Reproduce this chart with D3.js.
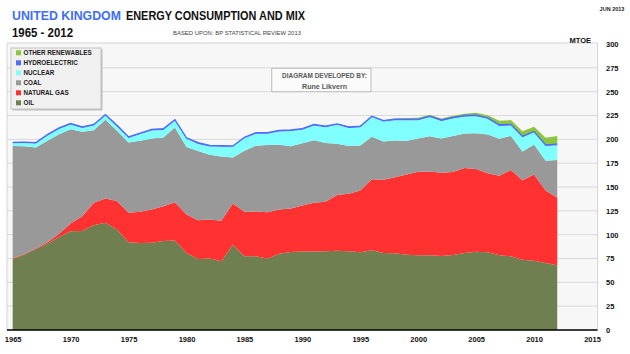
<!DOCTYPE html>
<html><head><meta charset="utf-8">
<script src="https://cdn.jsdelivr.net/npm/d3@7"></script>
<style>
body{margin:0;background:#fff}
svg{display:block}
text{font-family:"Liberation Sans",Arial,sans-serif}
</style>
</head><body>
<svg id="c" width="630" height="354"></svg>
<script>
// ---- DATA (MTOE) ----
const years = [1965,1966,1967,1968,1969,1970,1971,1972,1973,1974,1975,1976,1977,1978,1979,1980,1981,1982,1983,1984,1985,1986,1987,1988,1989,1990,1991,1992,1993,1994,1995,1996,1997,1998,1999,2000,2001,2002,2003,2004,2005,2006,2007,2008,2009,2010,2011,2012];
const oil = [74.5,79.0,85.0,90.6,97.6,103.6,103.8,109.9,112.4,105.3,92.0,91.3,91.6,93.4,93.8,80.8,74.5,75.1,72.0,89.5,77.3,77.3,74.8,80.0,81.8,82.3,82.3,82.5,83.2,82.5,81.5,83.6,80.8,80.4,79.0,78.3,78.3,77.6,78.6,80.8,82.2,81.5,78.3,77.3,73.7,72.7,70.2,67.8];
const gas = [0.7,0.6,0.8,1.4,3.4,8.1,15.6,23.5,25.6,29.9,30.9,32.7,34.8,36.5,40.3,40.3,40.7,40.8,42.5,43.2,46.7,47.0,48.8,46.4,45.7,48.3,51.1,52.0,58.3,60.4,64.9,74.4,76.9,79.7,84.0,87.7,88.0,87.4,87.1,89.2,86.8,82.8,83.4,90.5,83.3,90.3,76.0,71.2];
const coal = [117.8,113.1,105.6,106.4,104.4,99.0,88.5,76.2,82.5,73.7,73.8,74.4,74.5,72.0,78.3,70.9,72.6,67.9,67.4,48.3,64.0,69.0,70.4,68.0,65.3,65.2,65.6,61.7,53.9,50.1,47.2,44.6,40.0,38.7,35.6,35.0,37.0,36.0,37.9,36.2,37.3,40.9,38.9,35.8,30.2,31.5,31.4,39.3];
const nuclear = [2.8,3.4,4.1,5.5,5.5,4.8,4.1,4.9,4.5,4.6,4.8,7.1,8.3,8.0,7.1,8.5,7.4,8.7,10.4,11.1,13.1,12.6,11.9,13.9,15.9,14.3,15.6,16.5,19.8,18.9,19.0,20.8,20.9,21.3,21.4,18.9,20.2,18.2,18.6,17.7,18.0,16.3,13.5,10.9,14.9,12.9,15.3,15.4];
const hydro = [1.0,1.0,1.1,1.1,1.1,1.1,1.0,1.1,1.0,1.2,1.1,1.0,1.2,1.2,1.2,1.1,1.3,1.2,1.2,1.0,1.1,1.2,1.1,1.2,1.2,1.2,1.0,1.2,1.0,1.2,1.1,0.8,1.0,1.2,1.2,1.2,0.9,1.1,0.7,1.1,1.1,1.0,1.2,1.2,1.2,0.8,1.3,1.2];
const renewables = [0,0,0,0,0,0,0,0,0,0,0,0,0,0,0,0,0,0,0,0,0,0,0,0,0,0.1,0.1,0.2,0.2,0.3,0.3,0.3,0.4,0.5,0.8,1.6,1.5,1.5,1.9,1.9,2.4,2.8,4.2,4.5,5.3,4.9,7.5,8.6];

const xTicks = [1965,1970,1975,1980,1985,1990,1995,2000,2005,2010,2015];
const yTicks = [0,25,50,75,100,125,150,175,200,225,250,275,300];

const seriesKeys = ["oil","gas","coal","nuclear","hydro","renewables"];
const seriesColors = {oil:"#707f50",gas:"#ff3131",coal:"#999999",nuclear:"#80ffff",hydro:"#4d6cff",renewables:"#8cc63c"};
const legendItems = [
  {key:"renewables",label:"OTHER RENEWABLES"},
  {key:"hydro",label:"HYDROELECTRIC"},
  {key:"nuclear",label:"NUCLEAR"},
  {key:"coal",label:"COAL"},
  {key:"gas",label:"NATURAL GAS"},
  {key:"oil",label:"OIL"}
];

const rows = years.map((yr,i)=>({year:yr,oil:oil[i],gas:gas[i],coal:coal[i],nuclear:nuclear[i],hydro:hydro[i],renewables:renewables[i]}));

// ---- LAYOUT ----
const svg = d3.select("#c");
const plotL = 7, plotR = 597.5, plotT = 43, plotB = 330;
const x = d3.scaleLinear().domain([1965,2015]).range([12.7,592]);
const y = d3.scaleLinear().domain([0,300]).range([330,44]);

// plot background
svg.append("rect").attr("x",plotL).attr("y",plotT).attr("width",plotR-plotL).attr("height",plotB-plotT)
  .attr("fill","#f7f7f7").attr("stroke","#d6d6d6").attr("stroke-width",1);

// gridlines
svg.append("g").selectAll("line").data(yTicks.filter(v=>v>0&&v<300)).join("line")
  .attr("x1",plotL).attr("x2",plotR).attr("y1",d=>y(d)).attr("y2",d=>y(d))
  .attr("stroke","#d9d9d9").attr("stroke-width",1);

// stacked areas
const stack = d3.stack().keys(seriesKeys);
const layers = stack(rows);
const area = d3.area().x(d=>x(d.data.year)).y0(d=>y(d[0])).y1(d=>y(d[1]));
svg.append("g").selectAll("path").data(layers).join("path")
  .attr("d",area).attr("fill",d=>seriesColors[d.key]);

// hydro top line (thin blue band emphasised)
const hydroLayer = layers.find(l=>l.key==="hydro");
svg.append("path").datum(hydroLayer)
  .attr("d",d3.line().x(d=>x(d.data.year)).y(d=>y(d[1])))
  .attr("fill","none").attr("stroke",seriesColors.hydro).attr("stroke-width",1.3);

// x axis
const xAxis = svg.append("g").attr("transform",`translate(0,${plotB})`)
  .call(d3.axisBottom(x).tickValues(xTicks).tickFormat(d3.format("d")).tickSize(0).tickPadding(7));
xAxis.select(".domain").remove();
xAxis.selectAll("text").attr("font-size","7.5px").attr("font-weight","bold").attr("fill","#111")
  .style("font-family","'Liberation Sans',Arial,sans-serif");
svg.append("line").attr("x1",plotL).attr("x2",plotR).attr("y1",plotB).attr("y2",plotB)
  .attr("stroke","#000").attr("stroke-width",1.6);

// y axis (right)
const yAxis = svg.append("g").attr("transform",`translate(${plotR},0)`)
  .call(d3.axisRight(y).tickValues(yTicks).tickSize(0).tickPadding(8.5));
yAxis.select(".domain").remove();
yAxis.selectAll("text").attr("font-size","7.5px").attr("font-weight","bold").attr("fill","#111")
  .style("font-family","'Liberation Sans',Arial,sans-serif");

// MTOE unit label
svg.append("text").attr("x",591).attr("y",42.5).attr("text-anchor","end")
  .attr("font-size","7.5px").attr("font-weight","bold").attr("fill","#111").text("MTOE");

// date stamp
svg.append("text").attr("x",612).attr("y",11).attr("text-anchor","middle")
  .attr("font-size","5.5px").attr("font-weight","bold").attr("fill","#222").text("JUN 2013");

// titles
svg.append("text").attr("x",12).attr("y",19.5).attr("font-size","12px").attr("font-weight","bold")
  .attr("fill","#3e6ef5").attr("textLength",109).attr("lengthAdjust","spacingAndGlyphs").text("UNITED KINGDOM");
svg.append("text").attr("x",126).attr("y",19.5).attr("font-size","12px").attr("font-weight","bold")
  .attr("fill","#111").attr("textLength",179).attr("lengthAdjust","spacingAndGlyphs").text("ENERGY CONSUMPTION AND MIX");
svg.append("text").attr("x",12).attr("y",36.5).attr("font-size","12px").attr("font-weight","bold")
  .attr("fill","#111").attr("textLength",61).attr("lengthAdjust","spacingAndGlyphs").text("1965 - 2012");
svg.append("text").attr("x",173).attr("y",35).attr("font-size","5.5px")
  .attr("fill","#444").attr("textLength",128).attr("lengthAdjust","spacingAndGlyphs").text("BASED UPON: BP STATISTICAL REVIEW 2013");

// legend
const lg = svg.append("g");
lg.append("rect").attr("x",12.5).attr("y",49.5).attr("width",90).attr("height",61).attr("fill","#bdbdbd");
lg.append("rect").attr("x",11).attr("y",48).attr("width",90).attr("height",61).attr("fill","#f0f0f0").attr("stroke","#c4c4c4");
legendItems.forEach((it,i)=>{
  const cy = 52.8 + i*10;
  lg.append("rect").attr("x",16).attr("y",cy-2.5).attr("width",5).attr("height",5).attr("fill",seriesColors[it.key]);
  lg.append("text").attr("x",23.5).attr("y",cy+2.3).attr("font-size","6.3px").attr("font-weight","bold")
    .attr("fill","#1a1a1a").text(it.label);
});

// credit box
const cb = svg.append("g");
cb.append("rect").attr("x",271.7).attr("y",68.3).attr("width",99.3).attr("height",23.4)
  .attr("fill","#fbfbfb").attr("stroke","#bdbdbd");
cb.append("text").attr("x",324.5).attr("y",78.4).attr("text-anchor","middle").attr("font-size","6.3px")
  .attr("font-weight","bold").attr("fill","#595959").attr("textLength",85).attr("lengthAdjust","spacingAndGlyphs")
  .text("DIAGRAM DEVELOPED BY:");
cb.append("text").attr("x",324.5).attr("y",88.6).attr("text-anchor","middle").attr("font-size","6.8px")
  .attr("font-weight","bold").attr("fill","#595959").attr("textLength",45).attr("lengthAdjust","spacingAndGlyphs")
  .text("Rune Likvern");
</script>
</body></html>
